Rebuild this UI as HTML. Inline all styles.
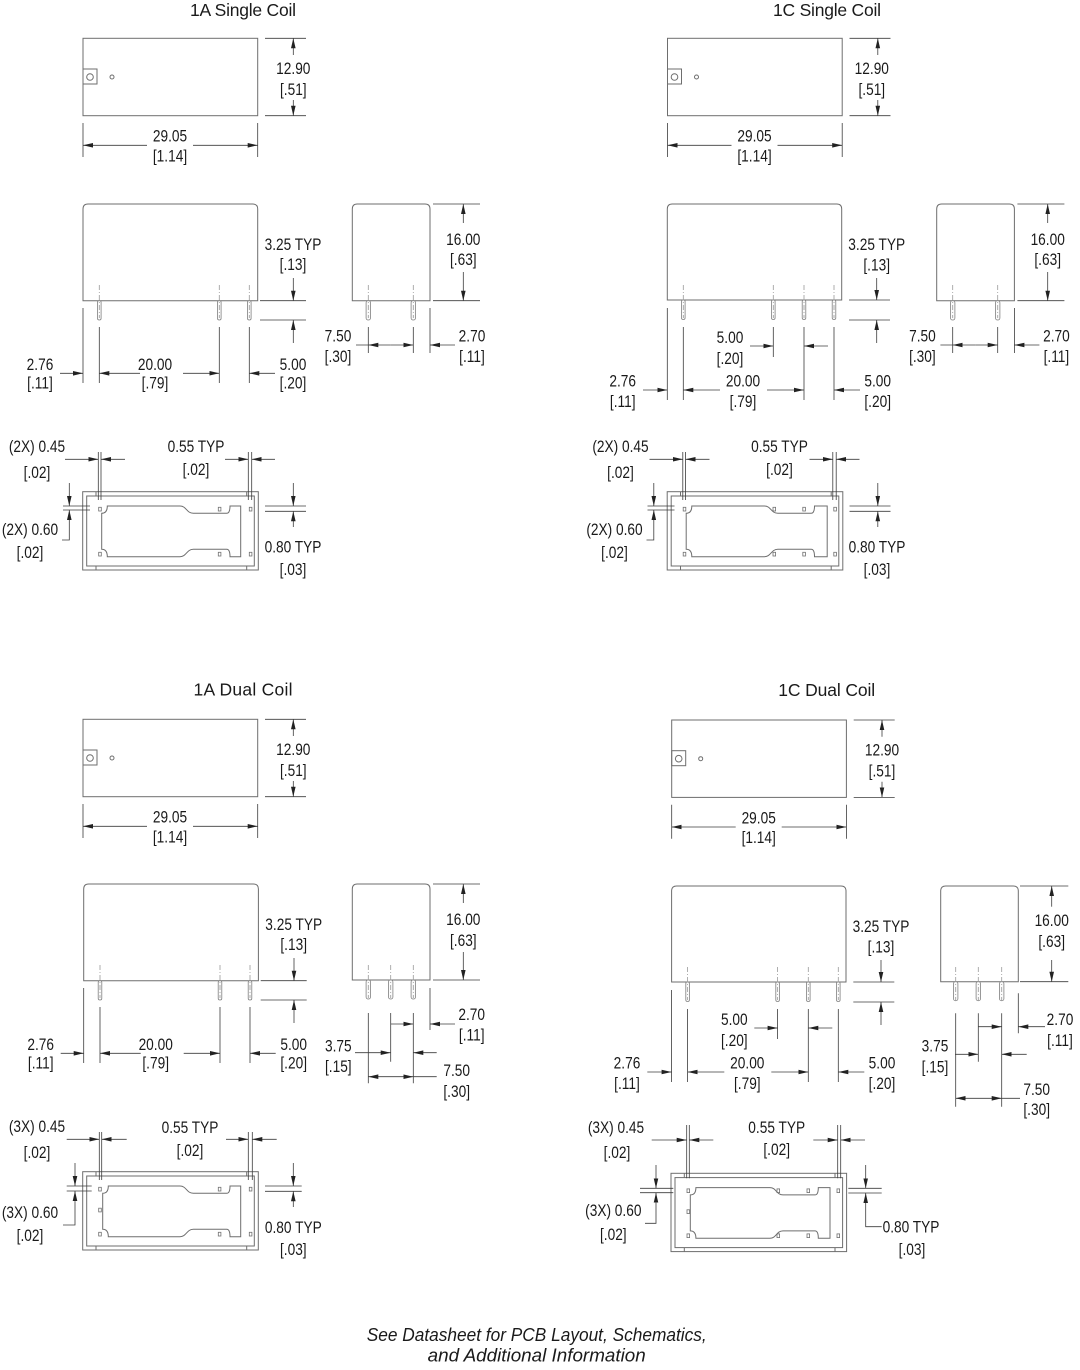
<!DOCTYPE html>
<html><head><meta charset="utf-8"><style>
html,body{margin:0;padding:0;background:#fff}
svg{display:block}
text{font-family:"Liberation Sans",Arial,sans-serif;font-size:16.5px;fill:#1a1a1a;text-anchor:middle}
.o{fill:none;stroke:#6e6e6e;stroke-width:1}
.d{fill:none;stroke:#3c3c3c;stroke-width:0.8}
.ar{fill:none;stroke:#3c3c3c;stroke-width:0.8;marker-end:url(#a)}
.c{fill:none;stroke:#9a9a9a;stroke-width:0.8;stroke-dasharray:5 2 1 2}
.p{fill:#fbfbfb;stroke:#808080;stroke-width:0.8}
.pd{fill:none;stroke:#707070;stroke-width:0.8}
.ti{font-size:17.5px}
.it{font-style:italic;font-size:18px}
</style></head><body>
<svg xmlns="http://www.w3.org/2000/svg" width="1080" height="1370" viewBox="0 0 1080 1370">
<defs>
<marker id="a" markerWidth="11" markerHeight="6" refX="10" refY="2.3" orient="auto" markerUnits="userSpaceOnUse"><path d="M0,0 L10,2.3 L0,4.6 z" fill="#222"/></marker>
</defs>
<rect width="1080" height="1370" fill="#fff"/>

<!-- ================= 1A SINGLE COIL ================= -->
<text class="ti" x="243" y="16" textLength="106">1A Single Coil</text>

<g>
<rect class="o" x="83" y="38.3" width="174.7" height="77.4"/>
<rect class="o" x="83" y="69" width="14" height="15"/>
<circle class="o" cx="90" cy="77" r="3.3"/>
<circle class="o" cx="112" cy="77" r="2"/>
<path class="d" d="M265 38.3H306M265 115.7H306M83 123V157M257.7 123V157"/>
<path class="ar" d="M293.3 55V38.3"/>
<path class="ar" d="M293.3 100V115.7"/>
<path class="ar" d="M147 145.3H83"/>
<path class="ar" d="M193 145.3H257.7"/>
<text transform="translate(293.3,74) scale(.83,1)">12.90</text>
<text transform="translate(293.3,95) scale(.83,1)">[.51]</text>
<text transform="translate(170,141.7) scale(.83,1)">29.05</text>
<text transform="translate(170,161.5) scale(.83,1)">[1.14]</text>
</g>

<g>
<path class="o" d="M83 300.7V209Q83 204 88 204H252.7Q257.7 204 257.7 209V300.7Z"/>
<rect class="p" x="97.5" y="300.7" width="3.6" height="19.3" rx="1.6"/>
<rect class="p" x="217.5" y="300.7" width="3.6" height="19.3" rx="1.6"/>
<rect class="p" x="247.5" y="300.7" width="3.6" height="19.3" rx="1.6"/>
<path class="c" d="M99.3 285V318M219.3 285V318M249.3 285V318"/>
<path class="d" d="M83 308V383M99.3 327V383M219.3 327V383M249.3 327V383M260 300.7H306M260 320H306"/>
<path class="ar" d="M60 373.3H83"/>
<path class="ar" d="M140 373.3H99.3"/>
<path class="ar" d="M183 373.3H219.3"/>
<path class="ar" d="M275 373.3H249.3"/>
<path class="ar" d="M293.3 278V300.7"/>
<path class="ar" d="M293.3 343V320"/>
<text transform="translate(40,370) scale(.83,1)">2.76</text>
<text transform="translate(40,388.5) scale(.83,1)">[.11]</text>
<text transform="translate(155,370) scale(.83,1)">20.00</text>
<text transform="translate(155,388.5) scale(.83,1)">[.79]</text>
<text transform="translate(293,370) scale(.83,1)">5.00</text>
<text transform="translate(293,388.5) scale(.83,1)">[.20]</text>
<text transform="translate(293,250) scale(.83,1)">3.25 TYP</text>
<text transform="translate(293,270) scale(.83,1)">[.13]</text>
</g>

<g>
<path class="o" d="M352.3 300.7V209Q352.3 204 357.3 204H425Q430 204 430 209V300.7Z"/>
<rect class="p" x="366.1" y="300.7" width="4.4" height="19.3" rx="2"/>
<rect class="p" x="411.1" y="300.7" width="4.4" height="19.3" rx="2"/>
<path class="c" d="M368.3 285V318M413.3 285V318"/>
<path class="d" d="M433 204H480M433 300.7H480M430 308V353M368.3 327V353M413.3 327V353M356 345H368.3"/>
<path class="ar" d="M463.3 223V204"/>
<path class="ar" d="M463.3 272V300.7"/>
<path class="ar" d="M390.8 345H368.3"/>
<path class="ar" d="M390.8 345H413.3"/>
<path class="ar" d="M455 345H430"/>
<text transform="translate(463.3,245) scale(.83,1)">16.00</text>
<text transform="translate(463.3,265) scale(.83,1)">[.63]</text>
<text transform="translate(338,341.7) scale(.83,1)">7.50</text>
<text transform="translate(338,362) scale(.83,1)">[.30]</text>
<text transform="translate(472,341.7) scale(.83,1)">2.70</text>
<text transform="translate(472,362) scale(.83,1)">[.11]</text>
</g>

<g>
<rect class="o" x="82.7" y="491.7" width="175.6" height="78.3"/>
<rect class="o" x="86.7" y="496" width="167.6" height="70"/>
<path class="o" d="M96 491.7V496M246.7 491.7V496M96 566V570M246.7 566V570"/>
<path class="d" d="M98.3 452V500M101 452V500M248.3 452V500M251.7 452V500"/>
<rect class="pd" x="98.7" y="507.3" width="2.6" height="3.7"/>
<rect class="pd" x="98.7" y="552.3" width="2.6" height="3.7"/>
<rect class="pd" x="218.3" y="507.3" width="2.6" height="3.7"/>
<rect class="pd" x="218.3" y="552.3" width="2.6" height="3.7"/>
<rect class="pd" x="249.3" y="507.3" width="2.6" height="3.7"/>
<rect class="pd" x="249.3" y="552.3" width="2.6" height="3.7"/>
<path class="o" d="M101.7 513.3Q107.3 513.3 107.3 506H180C186.5 506 186.5 513.3 193.3 513.3H226.7Q230 513.3 230 506H240.7V556.7H230Q230 549.3 226.7 549.3H193.3C186.5 549.3 186.5 556.7 180 556.7H107.3Q107.3 549.3 101.7 549.3Z"/>
<path class="ar" d="M65 459.3H98.3"/>
<path class="ar" d="M125 459.3H101"/>
<path class="ar" d="M225 459.3H248.3"/>
<path class="ar" d="M275 459.3H251.7"/>
<path class="d" d="M63 506H90M63 510H90M69.3 530V540H62M265 506H306M265 511.3H306"/>
<path class="ar" d="M69.3 483V506"/>
<path class="ar" d="M69.3 530V510"/>
<path class="ar" d="M293.3 483V506"/>
<path class="ar" d="M293.3 527V511.3"/>
<text transform="translate(37,452) scale(.83,1)">(2X) 0.45</text>
<text transform="translate(37,478) scale(.83,1)">[.02]</text>
<text transform="translate(196,452) scale(.83,1)">0.55 TYP</text>
<text transform="translate(196,475) scale(.83,1)">[.02]</text>
<text transform="translate(30,535) scale(.83,1)">(2X) 0.60</text>
<text transform="translate(30,558) scale(.83,1)">[.02]</text>
<text transform="translate(293,552.7) scale(.83,1)">0.80 TYP</text>
<text transform="translate(293,575) scale(.83,1)">[.03]</text>
</g>

<!-- ================= 1C SINGLE COIL ================= -->
<text class="ti" x="827" y="16" textLength="108">1C Single Coil</text>

<g transform="translate(584.5,0)">
<rect class="o" x="83" y="38.3" width="174.7" height="77.4"/>
<rect class="o" x="83" y="69" width="14" height="15"/>
<circle class="o" cx="90" cy="77" r="3.3"/>
<circle class="o" cx="112" cy="77" r="2"/>
<path class="d" d="M265 38.3H306M265 115.7H306M83 123V157M257.7 123V157"/>
<path class="ar" d="M293.3 55V38.3"/>
<path class="ar" d="M293.3 100V115.7"/>
<path class="ar" d="M147 145.3H83"/>
<path class="ar" d="M193 145.3H257.7"/>
<text transform="translate(287.3,74) scale(.83,1)">12.90</text>
<text transform="translate(287.3,95) scale(.83,1)">[.51]</text>
<text transform="translate(170,141.7) scale(.83,1)">29.05</text>
<text transform="translate(170,161.5) scale(.83,1)">[1.14]</text>
</g>

<g>
<path class="o" d="M667.3 300V209Q667.3 204 672.3 204H836.7Q841.7 204 841.7 209V300Z"/>
<rect class="p" x="681.5" y="300" width="3.6" height="19.5" rx="1.6"/>
<rect class="p" x="771.5" y="300" width="3.6" height="19.5" rx="1.6"/>
<rect class="p" x="802.2" y="300" width="3.6" height="19.5" rx="1.6"/>
<rect class="p" x="832.2" y="300" width="3.6" height="19.5" rx="1.6"/>
<path class="c" d="M683.3 285V318M773.3 285V318M804 285V318M834 285V318"/>
<path class="d" d="M667.3 308V400M683.3 327V400M773.3 327V357M804 327V400M834 327V400M849 300H890M849 320H890"/>
<path class="ar" d="M750 346H773.3"/>
<path class="ar" d="M828 346H804"/>
<path class="ar" d="M643 390H667.3"/>
<path class="ar" d="M720 390H683.3"/>
<path class="ar" d="M767 390H804"/>
<path class="ar" d="M860 390H834"/>
<path class="ar" d="M876.7 278V300"/>
<path class="ar" d="M876.7 343V320"/>
<text transform="translate(730,343) scale(.83,1)">5.00</text>
<text transform="translate(730,364) scale(.83,1)">[.20]</text>
<text transform="translate(622.7,386.7) scale(.83,1)">2.76</text>
<text transform="translate(622.7,407) scale(.83,1)">[.11]</text>
<text transform="translate(743,386.7) scale(.83,1)">20.00</text>
<text transform="translate(743,407) scale(.83,1)">[.79]</text>
<text transform="translate(877.7,386.7) scale(.83,1)">5.00</text>
<text transform="translate(877.7,407) scale(.83,1)">[.20]</text>
<text transform="translate(876.7,250) scale(.83,1)">3.25 TYP</text>
<text transform="translate(876.7,270.5) scale(.83,1)">[.13]</text>
</g>

<g transform="translate(584.4,0)">
<path class="o" d="M352.3 300.7V209Q352.3 204 357.3 204H425Q430 204 430 209V300.7Z"/>
<rect class="p" x="366.1" y="300.7" width="4.4" height="19.3" rx="2"/>
<rect class="p" x="411.1" y="300.7" width="4.4" height="19.3" rx="2"/>
<path class="c" d="M368.3 285V318M413.3 285V318"/>
<path class="d" d="M433 204H480M433 300.7H480M430 308V353M368.3 327V353M413.3 327V353M356 345H368.3"/>
<path class="ar" d="M463.3 223V204"/>
<path class="ar" d="M463.3 272V300.7"/>
<path class="ar" d="M390.8 345H368.3"/>
<path class="ar" d="M390.8 345H413.3"/>
<path class="ar" d="M455 345H430"/>
<text transform="translate(463.3,245) scale(.83,1)">16.00</text>
<text transform="translate(463.3,265) scale(.83,1)">[.63]</text>
<text transform="translate(338,341.7) scale(.83,1)">7.50</text>
<text transform="translate(338,362) scale(.83,1)">[.30]</text>
<text transform="translate(472,341.7) scale(.83,1)">2.70</text>
<text transform="translate(472,362) scale(.83,1)">[.11]</text>
</g>

<g transform="translate(584.5,0)">
<rect class="o" x="82.7" y="491.7" width="175.6" height="78.3"/>
<rect class="o" x="86.7" y="496" width="167.6" height="70"/>
<path class="o" d="M96 491.7V496M246.7 491.7V496M96 566V570M246.7 566V570"/>
<path class="d" d="M98.3 452V500M101 452V500M248.3 452V500M251.7 452V500"/>
<rect class="pd" x="98.7" y="507.3" width="2.6" height="3.7"/>
<rect class="pd" x="98.7" y="552.3" width="2.6" height="3.7"/>
<rect class="pd" x="188.5" y="507.3" width="2.6" height="3.7"/>
<rect class="pd" x="188.5" y="552.3" width="2.6" height="3.7"/>
<rect class="pd" x="218.3" y="507.3" width="2.6" height="3.7"/>
<rect class="pd" x="218.3" y="552.3" width="2.6" height="3.7"/>
<rect class="pd" x="249.3" y="507.3" width="2.6" height="3.7"/>
<rect class="pd" x="249.3" y="552.3" width="2.6" height="3.7"/>
<path class="o" d="M101.7 513.3Q107.3 513.3 107.3 506H180C186.5 506 186.5 513.3 193.3 513.3H226.7Q230 513.3 230 506H242.7V556.7H230Q230 549.3 226.7 549.3H193.3C186.5 549.3 186.5 556.7 180 556.7H107.3Q107.3 549.3 101.7 549.3Z"/>
<path class="ar" d="M65 459.3H98.3"/>
<path class="ar" d="M125 459.3H101"/>
<path class="ar" d="M225 459.3H248.3"/>
<path class="ar" d="M275 459.3H251.7"/>
<path class="d" d="M63 506H90M63 510H90M69.3 530V540H62M265 506H306M265 511.3H306"/>
<path class="ar" d="M69.3 483V506"/>
<path class="ar" d="M69.3 530V510"/>
<path class="ar" d="M293.3 483V506"/>
<path class="ar" d="M293.3 527V511.3"/>
<text transform="translate(36,452) scale(.83,1)">(2X) 0.45</text>
<text transform="translate(36,478) scale(.83,1)">[.02]</text>
<text transform="translate(195,452) scale(.83,1)">0.55 TYP</text>
<text transform="translate(195,475) scale(.83,1)">[.02]</text>
<text transform="translate(30,535) scale(.83,1)">(2X) 0.60</text>
<text transform="translate(30,558) scale(.83,1)">[.02]</text>
<text transform="translate(292.5,552.7) scale(.83,1)">0.80 TYP</text>
<text transform="translate(292.5,575) scale(.83,1)">[.03]</text>
</g>

<!-- ================= 1A DUAL COIL ================= -->
<text class="ti" x="243" y="695.5" textLength="99">1A Dual Coil</text>

<g transform="translate(0,681)">
<rect class="o" x="83" y="38.3" width="174.7" height="77.4"/>
<rect class="o" x="83" y="69" width="14" height="15"/>
<circle class="o" cx="90" cy="77" r="3.3"/>
<circle class="o" cx="112" cy="77" r="2"/>
<path class="d" d="M265 38.3H306M265 115.7H306M83 123V157M257.7 123V157"/>
<path class="ar" d="M293.3 55V38.3"/>
<path class="ar" d="M293.3 100V115.7"/>
<path class="ar" d="M147 145.3H83"/>
<path class="ar" d="M193 145.3H257.7"/>
<text transform="translate(293.3,74) scale(.83,1)">12.90</text>
<text transform="translate(293.3,95) scale(.83,1)">[.51]</text>
<text transform="translate(170,141.7) scale(.83,1)">29.05</text>
<text transform="translate(170,161.5) scale(.83,1)">[1.14]</text>
</g>

<g transform="translate(0.7,680)">
<path class="o" d="M83 300.7V209Q83 204 88 204H252.7Q257.7 204 257.7 209V300.7Z"/>
<rect class="p" x="97.5" y="300.7" width="3.6" height="19.3" rx="1.6"/>
<rect class="p" x="217.5" y="300.7" width="3.6" height="19.3" rx="1.6"/>
<rect class="p" x="247.5" y="300.7" width="3.6" height="19.3" rx="1.6"/>
<path class="c" d="M99.3 285V318M219.3 285V318M249.3 285V318"/>
<path class="d" d="M83 308V383M99.3 327V383M219.3 327V383M249.3 327V383M260 300.7H306M260 320H306"/>
<path class="ar" d="M60 373.3H83"/>
<path class="ar" d="M140 373.3H99.3"/>
<path class="ar" d="M183 373.3H219.3"/>
<path class="ar" d="M275 373.3H249.3"/>
<path class="ar" d="M293.3 278V300.7"/>
<path class="ar" d="M293.3 343V320"/>
<text transform="translate(40,370) scale(.83,1)">2.76</text>
<text transform="translate(40,388.5) scale(.83,1)">[.11]</text>
<text transform="translate(155,370) scale(.83,1)">20.00</text>
<text transform="translate(155,388.5) scale(.83,1)">[.79]</text>
<text transform="translate(293,370) scale(.83,1)">5.00</text>
<text transform="translate(293,388.5) scale(.83,1)">[.20]</text>
<text transform="translate(293,250) scale(.83,1)">3.25 TYP</text>
<text transform="translate(293,270) scale(.83,1)">[.13]</text>
</g>

<g>
<path class="o" d="M352.3 980V889Q352.3 884 357.3 884H425Q430 884 430 889V980Z"/>
<rect class="p" x="366.1" y="980" width="4.4" height="19" rx="2"/>
<rect class="p" x="388.5" y="980" width="4.4" height="19" rx="2"/>
<rect class="p" x="411.1" y="980" width="4.4" height="19" rx="2"/>
<path class="c" d="M368.3 965V998M390.7 965V998M413.3 965V998"/>
<path class="d" d="M433 884H480M433 980H480M430 988V1030M368.3 1013V1083.3M390.7 1013V1061.7M413.3 1013V1083.3M413.3 1076.7H436.7"/>
<path class="ar" d="M463.3 903V884"/>
<path class="ar" d="M463.3 952V980"/>
<path class="ar" d="M390.7 1024H413.3"/>
<path class="ar" d="M455 1024H430"/>
<path class="ar" d="M355 1052.7H390.7"/>
<path class="ar" d="M436.7 1052.7H413.3"/>
<path class="ar" d="M391 1076.7H368.3"/>
<path class="ar" d="M391 1076.7H413.3"/>
<text transform="translate(463.3,925) scale(.83,1)">16.00</text>
<text transform="translate(463.3,946) scale(.83,1)">[.63]</text>
<text transform="translate(471.7,1020) scale(.83,1)">2.70</text>
<text transform="translate(471.7,1040.7) scale(.83,1)">[.11]</text>
<text transform="translate(338.3,1051.7) scale(.83,1)">3.75</text>
<text transform="translate(338.3,1072) scale(.83,1)">[.15]</text>
<text transform="translate(456.7,1076) scale(.83,1)">7.50</text>
<text transform="translate(456.7,1097) scale(.83,1)">[.30]</text>
</g>

<g transform="translate(0,680)">
<rect class="o" x="82.7" y="491.7" width="175.6" height="78.3"/>
<rect class="o" x="86.7" y="496" width="167.6" height="70"/>
<path class="o" d="M96 491.7V496M246.7 491.7V496M96 566V570M246.7 566V570"/>
<path class="d" d="M99.3 452V500M101.7 452V500M248.3 452V500M252.3 452V500"/>
<rect class="pd" x="98.7" y="507.3" width="2.6" height="3.7"/>
<rect class="pd" x="98.7" y="528.2" width="2.6" height="3.7"/>
<rect class="pd" x="98.7" y="552.3" width="2.6" height="3.7"/>
<rect class="pd" x="218.3" y="507.3" width="2.6" height="3.7"/>
<rect class="pd" x="218.3" y="552.3" width="2.6" height="3.7"/>
<rect class="pd" x="249.3" y="507.3" width="2.6" height="3.7"/>
<rect class="pd" x="249.3" y="552.3" width="2.6" height="3.7"/>
<path class="o" d="M102.7 513.3Q108.3 513.3 108.3 506H180C186.5 506 186.5 513.3 193.3 513.3H226.7Q230 513.3 230 506H240.7V556.7H230Q230 549.3 226.7 549.3H193.3C186.5 549.3 186.5 556.7 180 556.7H108.3Q108.3 549.3 102.7 549.3Z"/>
<path class="ar" d="M66.7 459.3H99.3"/>
<path class="ar" d="M126.7 459.3H101.7"/>
<path class="ar" d="M226 459.3H248.3"/>
<path class="ar" d="M276.7 459.3H252.3"/>
<path class="d" d="M66.7 506H91.7M66.7 511H91.7M75 521.7V545H63M265 506H301.7M265 511.3H301.7"/>
<path class="ar" d="M75 483V506"/>
<path class="ar" d="M75 521.7V511"/>
<path class="ar" d="M293.3 483V506"/>
<path class="ar" d="M293.3 527V511.3"/>
</g>
<text transform="translate(37,1132) scale(.83,1)">(3X) 0.45</text>
<text transform="translate(37,1158) scale(.83,1)">[.02]</text>
<text transform="translate(190,1133) scale(.83,1)">0.55 TYP</text>
<text transform="translate(190,1156) scale(.83,1)">[.02]</text>
<text transform="translate(30,1218) scale(.83,1)">(3X) 0.60</text>
<text transform="translate(30,1241) scale(.83,1)">[.02]</text>
<text transform="translate(293.3,1233) scale(.83,1)">0.80 TYP</text>
<text transform="translate(293.3,1255) scale(.83,1)">[.03]</text>

<!-- ================= 1C DUAL COIL ================= -->
<text class="ti" x="826.7" y="696" textLength="97">1C Dual Coil</text>

<g transform="translate(588.7,681.7)">
<rect class="o" x="83" y="38.3" width="174.7" height="77.4"/>
<rect class="o" x="83" y="69" width="14" height="15"/>
<circle class="o" cx="90" cy="77" r="3.3"/>
<circle class="o" cx="112" cy="77" r="2"/>
<path class="d" d="M265 38.3H306M265 115.7H306M83 123V157M257.7 123V157"/>
<path class="ar" d="M293.3 55V38.3"/>
<path class="ar" d="M293.3 100V115.7"/>
<path class="ar" d="M147 145.3H83"/>
<path class="ar" d="M193 145.3H257.7"/>
<text transform="translate(293.3,74) scale(.83,1)">12.90</text>
<text transform="translate(293.3,95) scale(.83,1)">[.51]</text>
<text transform="translate(170,141.7) scale(.83,1)">29.05</text>
<text transform="translate(170,161.5) scale(.83,1)">[1.14]</text>
</g>

<g transform="translate(4.3,682)">
<path class="o" d="M667.3 300V209Q667.3 204 672.3 204H836.7Q841.7 204 841.7 209V300Z"/>
<rect class="p" x="681.5" y="300" width="3.6" height="19.5" rx="1.6"/>
<rect class="p" x="771.5" y="300" width="3.6" height="19.5" rx="1.6"/>
<rect class="p" x="802.2" y="300" width="3.6" height="19.5" rx="1.6"/>
<rect class="p" x="832.2" y="300" width="3.6" height="19.5" rx="1.6"/>
<path class="c" d="M683.3 285V318M773.3 285V318M804 285V318M834 285V318"/>
<path class="d" d="M667.3 308V400M683.3 327V400M773.3 327V357M804 327V400M834 327V400M849 300H890M849 320H890"/>
<path class="ar" d="M750 346H773.3"/>
<path class="ar" d="M828 346H804"/>
<path class="ar" d="M643 390H667.3"/>
<path class="ar" d="M720 390H683.3"/>
<path class="ar" d="M767 390H804"/>
<path class="ar" d="M860 390H834"/>
<path class="ar" d="M876.7 278V300"/>
<path class="ar" d="M876.7 343V320"/>
<text transform="translate(730,343) scale(.83,1)">5.00</text>
<text transform="translate(730,364) scale(.83,1)">[.20]</text>
<text transform="translate(622.7,386.7) scale(.83,1)">2.76</text>
<text transform="translate(622.7,407) scale(.83,1)">[.11]</text>
<text transform="translate(743,386.7) scale(.83,1)">20.00</text>
<text transform="translate(743,407) scale(.83,1)">[.79]</text>
<text transform="translate(877.7,386.7) scale(.83,1)">5.00</text>
<text transform="translate(877.7,407) scale(.83,1)">[.20]</text>
<text transform="translate(876.7,250) scale(.83,1)">3.25 TYP</text>
<text transform="translate(876.7,270.5) scale(.83,1)">[.13]</text>
</g>

<g>
<path class="o" d="M940.7 981.7V891Q940.7 886 945.7 886H1013.3Q1018.3 886 1018.3 891V981.7Z"/>
<rect class="p" x="953.5" y="981.7" width="4.4" height="19" rx="2"/>
<rect class="p" x="976.1" y="981.7" width="4.4" height="19" rx="2"/>
<rect class="p" x="999.5" y="981.7" width="4.4" height="19" rx="2"/>
<path class="c" d="M955.7 967V1000M978.3 967V1000M1001.7 967V1000"/>
<path class="d" d="M1020 886H1068.3M1020 981.7H1068.3M1018.3 993.3V1033.3M955.7 1013.3V1106.7M978.3 1013.3V1061.7M1001.7 1013.3V1106.7M1001.7 1098.3H1020"/>
<path class="ar" d="M1051.7 906.7V886"/>
<path class="ar" d="M1051.7 960V981.7"/>
<path class="ar" d="M978.3 1026.7H1001.7"/>
<path class="ar" d="M1045 1026.7H1018.3"/>
<path class="ar" d="M955 1054.3H978.3"/>
<path class="ar" d="M1026.7 1054.3H1001.7"/>
<path class="ar" d="M978.5 1098.3H955.7"/>
<path class="ar" d="M978.5 1098.3H1001.7"/>
<text transform="translate(1051.7,926) scale(.83,1)">16.00</text>
<text transform="translate(1051.7,947) scale(.83,1)">[.63]</text>
<text transform="translate(1060,1025) scale(.83,1)">2.70</text>
<text transform="translate(1060,1046) scale(.83,1)">[.11]</text>
<text transform="translate(935,1051.7) scale(.83,1)">3.75</text>
<text transform="translate(935,1072.7) scale(.83,1)">[.15]</text>
<text transform="translate(1036.7,1095) scale(.83,1)">7.50</text>
<text transform="translate(1036.7,1115) scale(.83,1)">[.30]</text>
</g>

<g transform="translate(588.3,681.6)">
<rect class="o" x="82.7" y="491.7" width="175.6" height="78.3"/>
<rect class="o" x="86.7" y="496" width="167.6" height="70"/>
<path class="o" d="M96 491.7V496M246.7 491.7V496M96 566V570M246.7 566V570"/>
<path class="d" d="M98.4 443.4V496.7M101 443.4V496.7M249.4 443.4V496.7M252.4 443.4V496.7"/>
<rect class="pd" x="98.7" y="507.3" width="2.6" height="3.7"/>
<rect class="pd" x="98.7" y="528.2" width="2.6" height="3.7"/>
<rect class="pd" x="98.7" y="552.3" width="2.6" height="3.7"/>
<rect class="pd" x="188.7" y="507.3" width="2.6" height="3.7"/>
<rect class="pd" x="188.7" y="552.3" width="2.6" height="3.7"/>
<rect class="pd" x="218.7" y="507.3" width="2.6" height="3.7"/>
<rect class="pd" x="218.7" y="552.3" width="2.6" height="3.7"/>
<rect class="pd" x="248.7" y="507.3" width="2.6" height="3.7"/>
<rect class="pd" x="248.7" y="552.3" width="2.6" height="3.7"/>
<path class="o" d="M102 513.3Q107.6 513.3 107.6 506H181.7C188 506 188 513.3 194.7 513.3H226.7Q230 513.3 230 506H241.7V556.7H230Q230 549.3 226.7 549.3H194.7C188 549.3 188 556.7 181.7 556.7H107.6Q107.6 549.3 102 549.3Z"/>
<path class="ar" d="M63.4 458.4H98.4"/>
<path class="ar" d="M125 458.4H101"/>
<path class="ar" d="M225 458.4H249.4"/>
<path class="ar" d="M276.7 458.4H252.4"/>
</g>
<path class="d" d="M640 1188.3H673.3M640 1192.7H673.3M656 1202.7V1223.3H645M848.3 1188.3H881.7M848.3 1193H881.7M865.7 1200V1226.7H881.7"/>
<path class="ar" d="M656 1165V1188.3"/>
<path class="ar" d="M656 1202.7V1192.7"/>
<path class="ar" d="M865.7 1165V1188.3"/>
<path class="ar" d="M865.7 1200V1193"/>
<text transform="translate(616,1133) scale(.83,1)">(3X) 0.45</text>
<text transform="translate(617,1158) scale(.83,1)">[.02]</text>
<text transform="translate(776.7,1133) scale(.83,1)">0.55 TYP</text>
<text transform="translate(776.7,1155) scale(.83,1)">[.02]</text>
<text transform="translate(613.3,1216) scale(.83,1)">(3X) 0.60</text>
<text transform="translate(613.3,1240) scale(.83,1)">[.02]</text>
<text transform="translate(911,1232.5) scale(.83,1)">0.80 TYP</text>
<text transform="translate(912,1255) scale(.83,1)">[.03]</text>

<!-- ================= NOTE ================= -->
<text class="it" x="536.7" y="1341" textLength="340" lengthAdjust="spacingAndGlyphs">See Datasheet for PCB Layout, Schematics,</text>
<text class="it" x="536.7" y="1361.5" textLength="218" lengthAdjust="spacingAndGlyphs">and Additional Information</text>
</svg>
</body></html>
